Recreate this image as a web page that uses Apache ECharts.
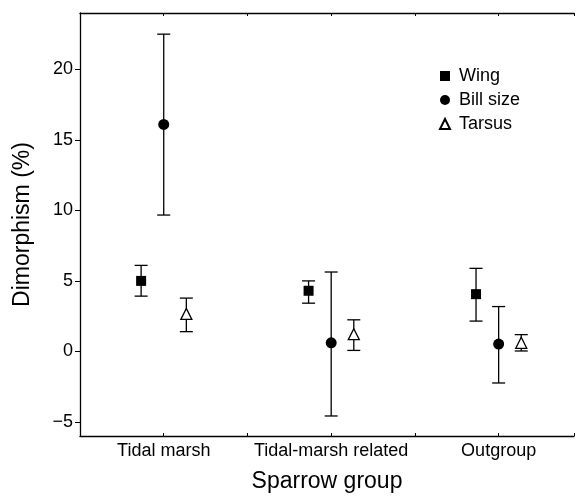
<!DOCTYPE html>
<html>
<head>
<meta charset="utf-8">
<script src="https://cdn.jsdelivr.net/npm/echarts@6/dist/echarts.min.js"></script>
<style>
  html, body { margin: 0; padding: 0; background: #fff; }
  #chart { width: 577px; height: 498px; }
</style>
</head>
<body>
<div id="chart"></div>
<script>
const groups = ['Tidal marsh', 'Tidal-marsh related', 'Outgroup']
const groupPos = [1, 3, 5]

const wing = [5.0, 4.3, 4.06]
const wingLow = [3.92, 3.42, 2.15]
const wingHigh = [6.1, 5.0, 5.89]

const bill = [16.1, 0.61, 0.52]
const billLow = [9.67, -4.58, -2.24]
const billHigh = [22.5, 5.63, 3.18]

const tarsus = [2.66, 1.22, 0.61]
const tarsusLow = [1.4, 0.07, 0.03]
const tarsusHigh = [3.78, 2.24, 1.19]

const yTicks = [-5, 0, 5, 10, 15, 20]

const FONT = 'Liberation Sans, Arial, Helvetica, sans-serif'
const shift = 0.27

const chart = echarts.init(document.getElementById('chart'))

function points(values, offset) {
  return values.map((v, i) => [groupPos[i] + offset, v])
}

function bars(low, high, offset) {
  return low.map((l, i) => [groupPos[i] + offset, l, high[i]])
}

function errorSeries(data) {
  return {
    type: 'custom',
    silent: true,
    z: 1,
    renderItem(params, api) {
      const x = api.value(0)
      const lo = api.coord([x, api.value(1)])
      const hi = api.coord([x, api.value(2)])
      const w = 6.5
      const style = { stroke: '#000', lineWidth: 1.3 }
      return {
        type: 'group',
        children: [
          { type: 'line', shape: { x1: lo[0], y1: lo[1], x2: hi[0], y2: hi[1] }, style },
          { type: 'line', shape: { x1: lo[0] - w, y1: lo[1], x2: lo[0] + w, y2: lo[1] }, style },
          { type: 'line', shape: { x1: hi[0] - w, y1: hi[1], x2: hi[0] + w, y2: hi[1] }, style }
        ]
      }
    },
    encode: { x: 0, y: [1, 2] },
    data
  }
}

chart.setOption({
  animation: false,
  grid: { left: 80, right: 0, top: 13, bottom: 57 },
  legend: {
    orient: 'vertical',
    left: 434,
    top: 62,
    itemWidth: 10,
    itemHeight: 10,
    itemGap: 6,
    data: ['Wing', 'Bill size', 'Tarsus'],
    textStyle: { fontFamily: FONT, fontSize: 18, color: '#000', padding: [0, 0, 0, 4] }
  },
  xAxis: [{
    type: 'value',
    min: 0,
    max: 5.9,
    interval: 1,
    name: 'Sparrow group',
    nameLocation: 'middle',
    nameGap: 34,
    nameTextStyle: { fontFamily: FONT, fontSize: 23, color: '#000' },
    splitLine: { show: false },
    axisLine: { onZero: false, lineStyle: { color: '#000', width: 1.3 } },
    axisTick: { inside: true, length: 3, lineStyle: { color: '#000' } },
    axisLabel: {
      margin: 6,
      fontFamily: FONT,
      fontSize: 18,
      color: '#000',
      formatter(v) {
        const i = groupPos.indexOf(v)
        return i >= 0 ? groups[i] : ''
      }
    }
  }, {
    type: 'value',
    position: 'top',
    min: 0,
    max: 5.9,
    interval: 1,
    splitLine: { show: false },
    axisLine: { onZero: false, lineStyle: { color: '#000', width: 1.3 } },
    axisTick: { inside: true, length: 3, lineStyle: { color: '#000' } },
    axisLabel: { show: false }
  }],
  yAxis: {
    type: 'value',
    min: -6,
    max: 24,
    interval: 1,
    name: 'Dimorphism (%)',
    nameLocation: 'middle',
    nameGap: 46,
    nameTextStyle: { fontFamily: FONT, fontSize: 23, color: '#000' },
    splitLine: { show: false },
    axisLine: { show: true, onZero: false, lineStyle: { color: '#000', width: 1.3 } },
    axisTick: {
      show: true,
      length: 5,
      lineStyle: { color: '#000' },
      customValues: yTicks
    },
    axisLabel: {
      margin: 7,
      fontFamily: FONT,
      fontSize: 18,
      color: '#000',
      customValues: yTicks,
      formatter(v) { return v < 0 ? '\u2212' + Math.abs(v) : String(v) }
    }
  },
  series: [
    errorSeries(bars(wingLow, wingHigh, -shift)),
    errorSeries(bars(billLow, billHigh, 0)),
    errorSeries(bars(tarsusLow, tarsusHigh, shift)),
    {
      name: 'Wing',
      type: 'scatter',
      symbol: 'rect',
      symbolSize: 10,
      z: 3,
      itemStyle: { color: '#000', opacity: 1 },
      data: points(wing, -shift)
    },
    {
      name: 'Bill size',
      type: 'scatter',
      symbol: 'circle',
      symbolSize: 11,
      z: 3,
      itemStyle: { color: '#000', opacity: 1 },
      data: points(bill, 0)
    },
    {
      name: 'Tarsus',
      type: 'scatter',
      symbol: 'triangle',
      symbolSize: 11,
      z: 3,
      itemStyle: { color: '#fff', borderColor: '#000', borderWidth: 1.3, opacity: 1 },
      data: points(tarsus, shift)
    }
  ]
})
</script>
</body>
</html>
